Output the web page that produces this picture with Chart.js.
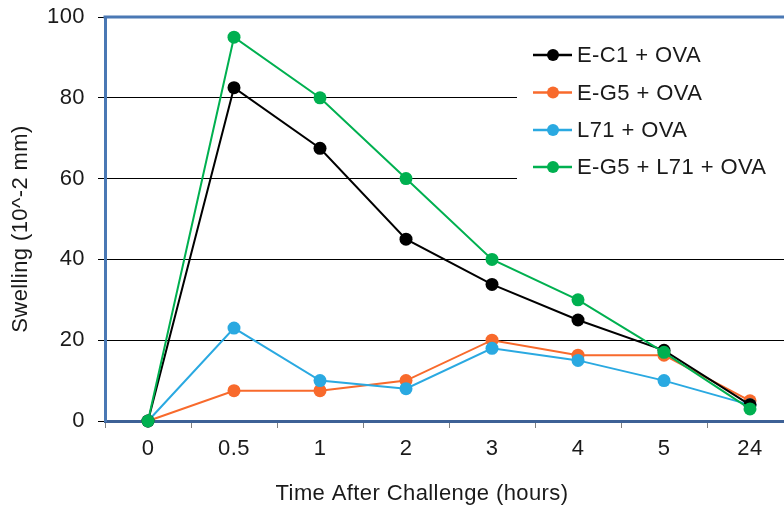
<!DOCTYPE html>
<html>
<head>
<meta charset="utf-8">
<script src="https://cdn.jsdelivr.net/npm/chart.js@4/dist/chart.umd.min.js"></script>
<style>
  html, body { margin: 0; padding: 0; background: #fff; overflow: hidden; }
  #wrap { position: relative; width: 800px; height: 507px; }
</style>
</head>
<body>
<div id="wrap"><canvas id="c"></canvas></div>
<script>
const categories = ['0', '0.5', '1', '2', '3', '4', '5', '24'];
const seriesNames = ['E-C1 + OVA', 'E-G5 + OVA', 'L71 + OVA', 'E-G5 + L71 + OVA'];
const ec1Ova = [0, 82.5, 67.5, 45, 33.8, 25, 17.5, 4];
const eg5Ova = [0, 7.5, 7.5, 10, 20, 16.3, 16.3, 5];
const l71Ova = [0, 23, 10, 8, 18, 15, 10, 4];
const eg5L71Ova = [0, 95, 80, 60, 40, 30, 17, 3];
const yTickValues = [0, 20, 40, 60, 80, 100];
const xTitle = 'Time After Challenge (hours)';
const yTitle = 'Swelling (10^-2 mm)';

const colors = ['#000000', '#f86a2c', '#2aa9e1', '#00b050'];
const FONT = 'Liberation Sans, Arial, sans-serif';
const FS = 22;
const LS = '0.4px';

function ds(label, data, color, order) {
  return {
    label, data, order,
    borderColor: color, backgroundColor: color,
    borderWidth: 2, pointRadius: 6.5, pointHoverRadius: 6.5,
    pointBorderWidth: 0, pointBackgroundColor: color,
    tension: 0, clip: false
  };
}

const deco = {
  id: 'deco',
  beforeDraw(chart) { chart.ctx.letterSpacing = LS; },
  beforeDatasetsDraw(chart) {
    const {ctx, chartArea} = chart;
    ctx.save();
    ctx.strokeStyle = '#4a78b4';
    ctx.lineWidth = 3;
    ctx.beginPath();
    ctx.moveTo(chartArea.left - 1.5, chartArea.top);
    ctx.lineTo(chartArea.right + 10, chartArea.top);
    ctx.stroke();
    ctx.restore();
  },
  afterDatasetsDraw(chart) {
    const ctx = chart.ctx;
    ctx.save();
    ctx.letterSpacing = LS;
    // legend background
    ctx.fillStyle = '#fff';
    ctx.fillRect(517, 21, 290, 169);
    const rows = [55, 92.5, 130, 167];
    ctx.font = FS + 'px ' + FONT;
    ctx.textBaseline = 'middle';
    ctx.textAlign = 'left';
    chart.data.datasets.forEach((d, i) => {
      const y = rows[i];
      ctx.strokeStyle = d.borderColor;
      ctx.lineWidth = 2.5;
      ctx.beginPath(); ctx.moveTo(533, y); ctx.lineTo(572, y); ctx.stroke();
      ctx.fillStyle = d.borderColor;
      ctx.beginPath(); ctx.arc(553, y, 6, 0, Math.PI * 2); ctx.fill();
      ctx.fillStyle = '#1a1a1a';
      ctx.fillText(d.label, 577, y + 1);
    });
    // axis titles
    ctx.fillStyle = '#1a1a1a';
    ctx.textAlign = 'center';
    ctx.fillText(xTitle, 422, 494);
    ctx.save();
    ctx.translate(21, 229);
    ctx.rotate(-Math.PI / 2);
    ctx.fillText(yTitle, 0, 0);
    ctx.restore();
    ctx.restore();
  }
};

new Chart(document.getElementById('c'), {
  type: 'line',
  data: {
    labels: categories,
    datasets: [
      ds(seriesNames[0], ec1Ova, colors[0], 1),
      ds(seriesNames[1], eg5Ova, colors[1], 3),
      ds(seriesNames[2], l71Ova, colors[2], 2),
      ds(seriesNames[3], eg5L71Ova, colors[3], 0)
    ]
  },
  options: {
    responsive: true,
    maintainAspectRatio: false,
    animation: false,
    devicePixelRatio: 1,
    layout: { autoPadding: false, padding: { left: 0, right: 7, top: 17, bottom: 0 } },
    plugins: { legend: { display: false }, tooltip: { enabled: false } },
    scales: {
      x: {
        type: 'category',
        offset: true,
        grid: { display: true, drawOnChartArea: false, drawTicks: true, tickLength: 7, color: '#808080', lineWidth: 1, offset: true },
        border: { display: true, color: '#3d6196', width: 3 },
        ticks: { autoSkip: false, maxRotation: 0, minRotation: 0, padding: 8, color: '#1a1a1a', font: { family: FONT, size: FS } },
        afterFit(scale) { scale.height = 86; scale.paddingLeft = 0; scale.paddingRight = 0; }
      },
      y: {
        min: 0, max: 100,
        afterBuildTicks(scale) { scale.ticks = yTickValues.map(v => ({ value: v })); },
        grid: { display: true, drawOnChartArea: true, drawTicks: true, tickLength: 7, color: '#000', lineWidth: 1 },
        border: { display: true, color: '#4a78b4', width: 3 },
        ticks: { padding: 13, color: '#1a1a1a', font: { family: FONT, size: FS } },
        afterFit(scale) { scale.width = 105; scale.paddingTop = 0; scale.paddingBottom = 0; }
      }
    }
  },
  plugins: [deco]
});
</script>
</body>
</html>
